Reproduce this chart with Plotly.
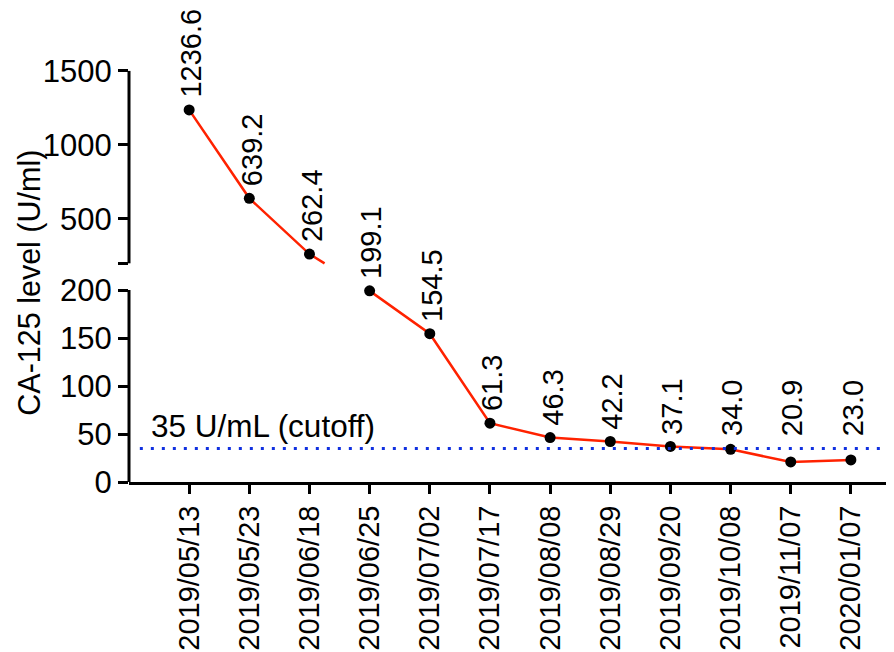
import plotly.graph_objects as go

# ---- data ----
dates = ["2019/05/13", "2019/05/23", "2019/06/18", "2019/06/25", "2019/07/02",
         "2019/07/17", "2019/08/08", "2019/08/29", "2019/09/20", "2019/10/08",
         "2019/11/07", "2020/01/07"]
ca125 = [1236.6, 639.2, 262.4, 199.1, 154.5, 61.3, 46.3, 42.2, 37.1, 34.0, 20.9, 23.0]
cutoff = 35
lower_ticks = [0, 50, 100, 150, 200]
upper_ticks = [500, 1000, 1500]

# ---- broken axis mapping ----
LOW_MAX = 200.0        # top of lower segment
UP_MIN = 200.0         # bottom of upper segment
GAP = 27.8             # gap between segments (lower-axis units)
UP_SCALE = 0.15417     # upper segment compression
UP_TOP = 1500.0


def tr(v):
    if v <= LOW_MAX:
        return v
    return LOW_MAX + GAP + (v - UP_MIN) * UP_SCALE


n = len(ca125)
xs = list(range(n))
ts = [tr(v) for v in ca125]
gap_top = tr(UP_MIN + 1e-9)

# line with a break inside the axis gap
lx, ly = [], []
for i in range(n):
    lx.append(xs[i]); ly.append(ts[i])
    if i < n - 1 and ts[i] > gap_top and ts[i + 1] < LOW_MAX:
        d = ts[i] - ts[i + 1]
        xa = xs[i] + (ts[i] - gap_top) / d
        xb = xs[i] + (ts[i] - LOW_MAX) / d
        lx += [xa, None, xb]
        ly += [gap_top, None, LOW_MAX]

FONT = "Arial, Liberation Sans, Helvetica, sans-serif"

fig = go.Figure()
fig.add_trace(go.Scatter(x=lx, y=ly, mode="lines",
                         line=dict(color="#ff2200", width=2.5),
                         hoverinfo="skip", showlegend=False))
fig.add_trace(go.Scatter(x=xs, y=ts, mode="markers",
                         marker=dict(color="black", size=11),
                         showlegend=False))

# cutoff line
fig.add_shape(type="line", xref="x", yref="y", x0=-0.82, x1=11.65,
              y0=cutoff, y1=cutoff,
              line=dict(color="#1030e0", width=3, dash="3px,8px"))

# broken y-axis line segments
fig.add_shape(type="line", xref="paper", yref="y", x0=0, x1=0,
              y0=0, y1=LOW_MAX, line=dict(color="black", width=3))
fig.add_shape(type="line", xref="paper", yref="y", x0=0, x1=0,
              y0=gap_top, y1=tr(UP_TOP), line=dict(color="black", width=3))

# value labels
annotations = []
for i, v in enumerate(ca125):
    annotations.append(dict(
        x=xs[i], y=max(ts[i], tr(cutoff)), xref="x", yref="y",
        text=f"{v:.1f}", showarrow=False, textangle=-90,
        xanchor="center", yanchor="bottom", yshift=10, xshift=2,
        font=dict(family=FONT, size=29, color="black")))

annotations.append(dict(
    x=-0.67, y=cutoff, xref="x", yref="y", text="35 U/mL (cutoff)",
    showarrow=False, xanchor="left", yanchor="bottom", yshift=2,
    font=dict(family=FONT, size=31.5, color="black")))

annotations.append(dict(
    x=-0.131, y=0.432, xref="paper", yref="paper", text="CA-125 level (U/ml)",
    showarrow=False, textangle=-90, xanchor="center", yanchor="middle",
    font=dict(family=FONT, size=30.5, color="black")))

tickvals = [tr(v) for v in lower_ticks] + [gap_top] + [tr(v) for v in upper_ticks]
ticktext = [str(v) for v in lower_ticks] + [""] + [str(v) for v in upper_ticks]

# page body has an 8px margin; compensate so the plot lands where intended
PAGE_OFF = 8
W, H = 894, 652
PLOT_LEFT, PLOT_RIGHT = 129, 890
PLOT_TOP, PLOT_BOTTOM = 20, 482
PX_PER_UNIT = 0.96
ytop = (PLOT_BOTTOM - PLOT_TOP) / PX_PER_UNIT

fig.update_layout(
    template="none",
    width=W, height=H,
    margin=dict(l=PLOT_LEFT - PAGE_OFF, r=W - (PLOT_RIGHT - PAGE_OFF),
                t=PLOT_TOP - PAGE_OFF, b=H - (PLOT_BOTTOM - PAGE_OFF),
                autoexpand=False),
    plot_bgcolor="white", paper_bgcolor="white",
    font=dict(family=FONT, size=30, color="black"),
    annotations=annotations,
    xaxis=dict(range=[-1, 11.65], tickvals=xs, ticktext=dates, tickangle=-90,
               automargin=False,
               showline=True, linecolor="black", linewidth=3,
               ticks="outside", ticklen=9, tickwidth=3, tickcolor="black",
               showgrid=False, zeroline=False,
               tickfont=dict(family=FONT, size=29, color="black")),
    yaxis=dict(range=[0, ytop], tickvals=tickvals, ticktext=ticktext,
               automargin=False,
               showline=False, ticks="outside", ticklen=10, tickwidth=3,
               tickcolor="black", showgrid=False, zeroline=False,
               ticklabelstandoff=0,
               tickfont=dict(family=FONT, size=31, color="black")),
)

fig.write_html("out.html")
